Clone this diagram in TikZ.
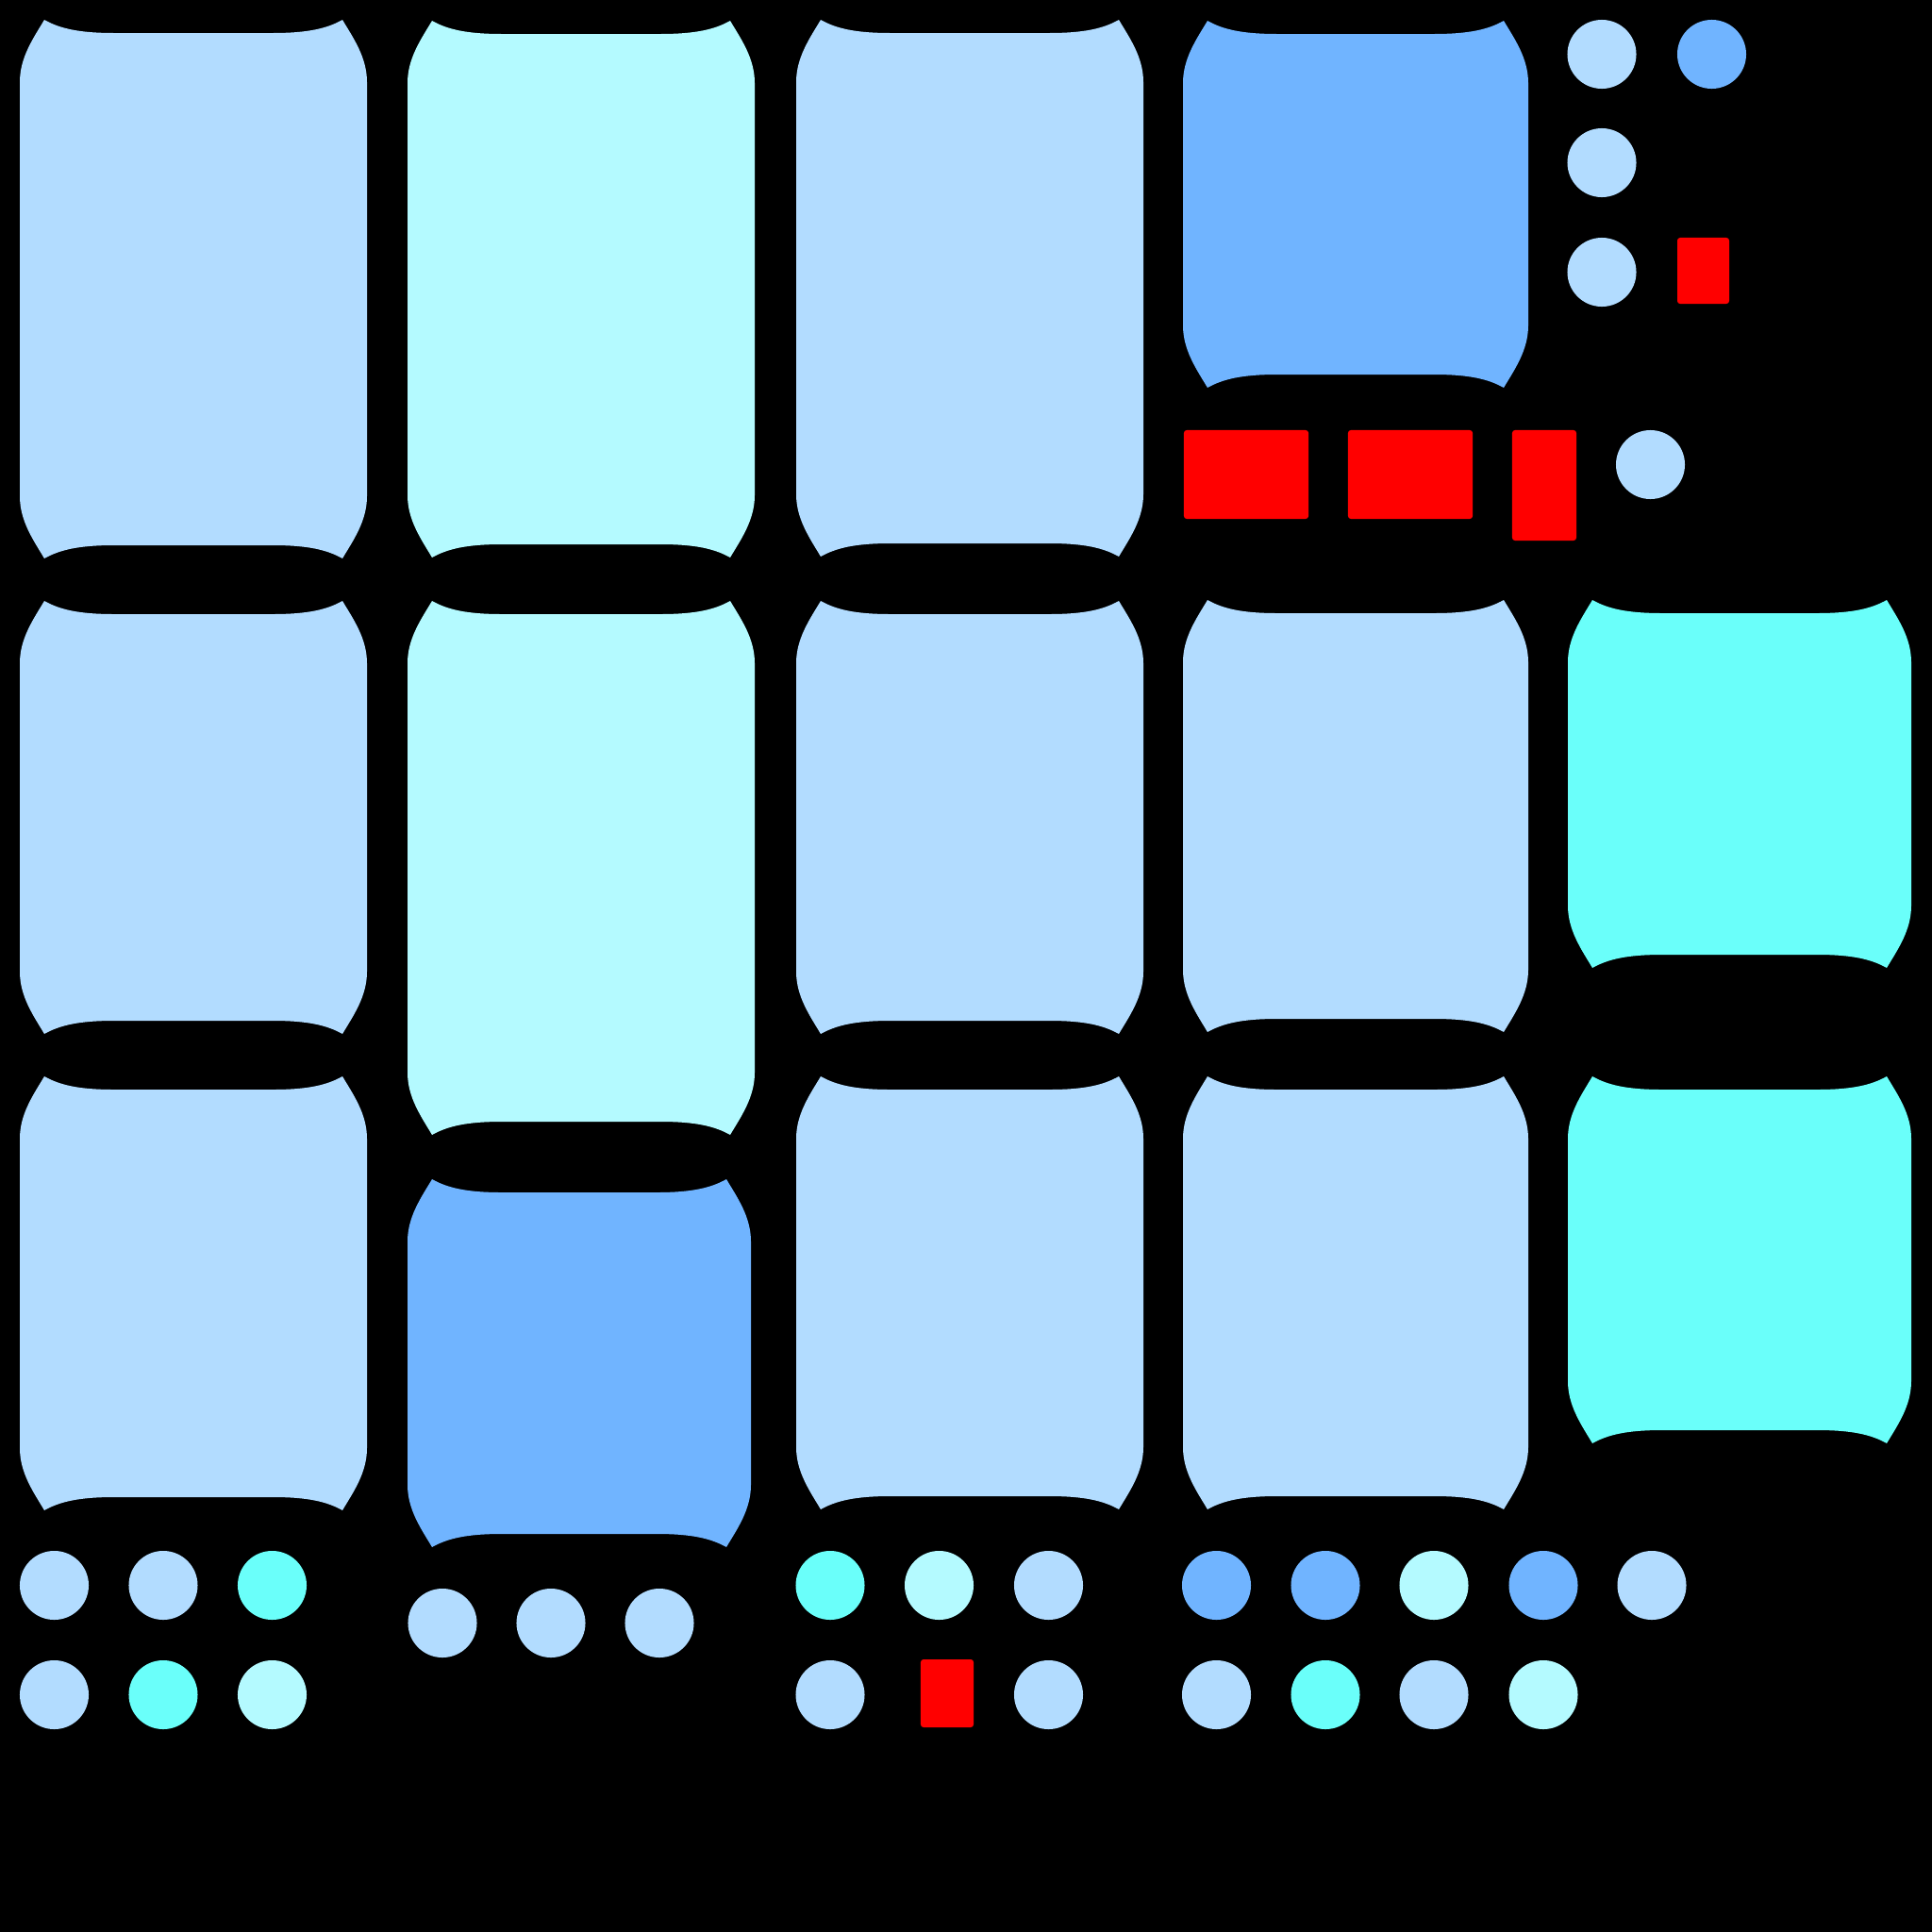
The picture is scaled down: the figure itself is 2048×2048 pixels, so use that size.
\documentclass[tikz,border=0pt]{standalone}
\usetikzlibrary{shapes.geometric}
\definecolor{lb}{HTML}{B2DCFF}
\definecolor{pc}{HTML}{B4FAFF}
\definecolor{db}{HTML}{70B4FF}
\definecolor{cy}{HTML}{6AFFFA}
\definecolor{rd}{HTML}{FF0000}
\newcommand\drawbarrel[5]{%
\fill[#5] (#1+26,#2) .. controls (#1+42,#2+9) and (#1+62,#2+14) .. (#1+100,#2+14)
 -- (#3-100,#2+14) .. controls (#3-62,#2+14) and (#3-42,#2+9) .. (#3-26,#2)
 .. controls (#3-14,#2+20) and (#3,#2+40) .. (#3,#2+66)
 -- (#3,#4-66) .. controls (#3,#4-40) and (#3-14,#4-20) .. (#3-26,#4)
 .. controls (#3-42,#4-9) and (#3-62,#4-14) .. (#3-100,#4-14)
 -- (#1+100,#4-14) .. controls (#1+62,#4-14) and (#1+42,#4-9) .. (#1+26,#4)
 .. controls (#1+14,#4-20) and (#1,#4-40) .. (#1,#4-66)
 -- (#1,#2+66) .. controls (#1,#2+40) and (#1+14,#2+20) .. (#1+26,#2) -- cycle;}
\tikzset{
  dot/.style={circle,inner sep=0pt,minimum size=0.73cm,draw=none},
  redbox/.style={rectangle,fill=rd,inner sep=0pt,rounded corners=0.03cm,draw=none},
}
\begin{document}
\begin{tikzpicture}[x=0.01cm,y=-0.01cm]
\fill[black] (0,0) rectangle (2048,2048);
\useasboundingbox (0,0) rectangle (2048,2048);
% column 1
\drawbarrel{21}{21}{389}{592}{lb}
\drawbarrel{21}{637}{389}{1096}{lb}
\drawbarrel{21}{1141}{389}{1601}{lb}
% column 2
\drawbarrel{432}{22}{800}{591}{pc}
\drawbarrel{432}{637}{800}{1203}{pc}
\drawbarrel{432}{1250}{796}{1640}{db}
% column 3
\drawbarrel{844}{21}{1212}{590}{lb}
\drawbarrel{844}{637}{1212}{1096}{lb}
\drawbarrel{844}{1141}{1212}{1600}{lb}
% column 4
\drawbarrel{1254}{22}{1620}{411}{db}
\drawbarrel{1254}{636}{1620}{1094}{lb}
\drawbarrel{1254}{1141}{1620}{1600}{lb}
% column 5
\drawbarrel{1662}{636}{2026}{1026}{cy}
\drawbarrel{1662}{1141}{2026}{1530}{cy}
% red boxes
\node[redbox,minimum width=1.32cm,minimum height=0.94cm] (r1) at (1321,503) {};
\node[redbox,minimum width=1.32cm,minimum height=0.94cm] (r2) at (1495,503) {};
\node[redbox,minimum width=0.68cm,minimum height=1.17cm] (r3) at (1637,514.5) {};
\node[redbox,minimum width=0.55cm,minimum height=0.70cm] (r4) at (1805.5,287) {};
\node[redbox,minimum width=0.56cm,minimum height=0.72cm] (r5) at (1004,1795) {};
% top right dots
\node[dot,fill=lb] (t1) at (1698,57.5) {};
\node[dot,fill=db] (t2) at (1814.5,57.5) {};
\node[dot,fill=lb] (t3) at (1698,172.5) {};
\node[dot,fill=lb] (t4) at (1698,288.5) {};
\node[dot,fill=lb] (t5) at (1749.5,492.5) {};
% bottom column 1 dots
\node[dot,fill=lb] (a1) at (57.5,1680.5) {};
\node[dot,fill=lb] (a2) at (173,1680.5) {};
\node[dot,fill=cy] (a3) at (288.5,1680.5) {};
\node[dot,fill=lb] (a4) at (57.5,1796.5) {};
\node[dot,fill=cy] (a5) at (173,1796.5) {};
\node[dot,fill=pc] (a6) at (288.5,1796.5) {};
% column 2 dots
\node[dot,fill=lb] (b1) at (469,1720.5) {};
\node[dot,fill=lb] (b2) at (584,1720.5) {};
\node[dot,fill=lb] (b3) at (699,1720.5) {};
% column 3 dots
\node[dot,fill=cy] (c1) at (880,1680.5) {};
\node[dot,fill=pc] (c2) at (995.5,1680.5) {};
\node[dot,fill=lb] (c3) at (1111.5,1680.5) {};
\node[dot,fill=lb] (c4) at (880,1796.5) {};
\node[dot,fill=lb] (c5) at (1111.5,1796.5) {};
% column 4 dots
\node[dot,fill=db] (d1) at (1289.5,1680.5) {};
\node[dot,fill=db] (d2) at (1405,1680.5) {};
\node[dot,fill=pc] (d3) at (1520,1680.5) {};
\node[dot,fill=db] (d4) at (1636,1680.5) {};
\node[dot,fill=lb] (d5) at (1751,1680.5) {};
\node[dot,fill=lb] (d6) at (1289.5,1796.5) {};
\node[dot,fill=cy] (d7) at (1405,1796.5) {};
\node[dot,fill=lb] (d8) at (1520,1796.5) {};
\node[dot,fill=pc] (d9) at (1636,1796.5) {};
\end{tikzpicture}
\end{document}
